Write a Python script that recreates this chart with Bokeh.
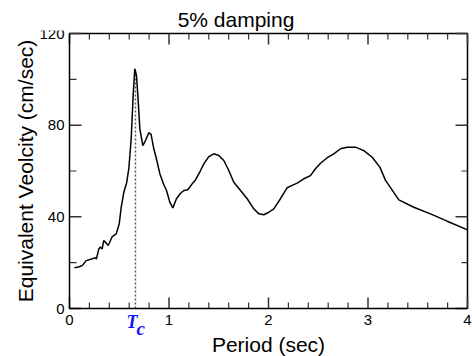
from bokeh.plotting import figure
from bokeh.models import LinearAxis, Range1d, FixedTicker
from bokeh.core.properties import value
from bokeh.embed import file_html
from bokeh.resources import INLINE

period = [0.05, 0.10, 0.13, 0.167, 0.23, 0.26, 0.27, 0.295, 0.31, 0.328, 0.345, 0.362, 0.389,
          0.43, 0.47, 0.50, 0.52, 0.546, 0.575, 0.596, 0.62, 0.64, 0.656, 0.673, 0.687, 0.707,
          0.737, 0.764, 0.797, 0.82, 0.847, 0.87, 0.908, 0.948, 0.975, 1.008, 1.038, 1.075,
          1.116, 1.149, 1.189, 1.233, 1.266, 1.317, 1.35, 1.40, 1.45, 1.50, 1.551, 1.601,
          1.651, 1.719, 1.786, 1.852, 1.903, 1.953, 2.003, 2.053, 2.12, 2.188, 2.238, 2.288,
          2.355, 2.422, 2.472, 2.523, 2.59, 2.656, 2.724, 2.79, 2.874, 2.958, 3.042, 3.119,
          3.176, 3.31, 3.46, 3.628, 3.796, 4.0]
velocity = [17.8, 18.2, 18.8, 20.9, 21.7, 22.2, 21.6, 26.0, 26.8, 26.0, 29.7, 28.9, 27.5,
            31.4, 32.6, 37.0, 44.2, 50.7, 55.0, 61.0, 74.0, 93.0, 104.6, 101.7, 93.0, 78.4,
            71.1, 73.3, 76.7, 76.0, 69.7, 66.0, 58.8, 54.0, 51.5, 46.4, 43.9, 47.9,
            50.3, 51.5, 51.8, 54.4, 56.1, 60.2, 63.1, 66.3, 67.5, 66.8, 64.6, 60.2,
            55.1, 51.5, 47.9, 43.5, 41.3, 40.9, 42.0, 43.5, 47.9, 52.7, 53.7, 54.7,
            56.6, 58.0, 61.0, 63.4, 65.8, 67.5, 69.7, 70.4, 70.4, 68.9, 66.0, 61.7,
            55.9, 47.4, 44.2, 41.3, 38.1, 34.3]
tc_period = 0.663
tc_peak = 104.6
x_lo, x_hi = 0, 4
y_lo, y_hi = 0, 120
x_ticks = [0, 1, 2, 3, 4]
y_ticks = [0, 40, 80, 120]
x_minor = [0.2 * i for i in range(21) if i % 5]
y_minor = [20, 60, 100]
title_text = "5% damping"
x_label = "Period (sec)"
y_label = "Equivalent Veolcity (cm/sec)"

FONT = "Liberation Sans"

# layout in pixels (the frame spans the whole canvas below the title)
BOX_W, BOX_H = 398, 275
LEFT, TOP = 69, 30
PAD_T, PAD_R = 3, 4
BELOW = 48
px_x = BOX_W / (x_hi - x_lo)
px_y = BOX_H / (y_hi - y_lo)

p = figure(frame_width=LEFT + BOX_W + PAD_R, frame_height=BOX_H + PAD_T + BELOW,
           min_border_left=0, min_border_right=1, min_border_top=TOP, min_border_bottom=0,
           x_range=Range1d(x_lo - LEFT / px_x, x_hi + PAD_R / px_x),
           y_range=Range1d(y_lo - BELOW / px_y, y_hi + PAD_T / px_y),
           output_backend="svg", toolbar_location=None,
           x_axis_location=None, y_axis_location=None)
p.grid.visible = False
p.outline_line_color = None
p.background_fill_color = "white"
p.border_fill_color = "white"

p.title.text = title_text
p.title.align = "center"
p.title.offset = LEFT / 2
p.title.text_font = FONT
p.title.text_font_size = "21px"
p.title.text_font_style = "normal"
p.title.text_color = "black"
p.title.standoff = 0


def style(ax):
    ax.axis_line_color = "black"
    ax.axis_line_width = 1.5
    ax.major_tick_in = 0
    ax.major_tick_out = 0
    ax.minor_tick_in = 0
    ax.minor_tick_out = 0
    ax.major_tick_line_color = None
    ax.minor_tick_line_color = None
    ax.major_label_text_font = FONT
    ax.major_label_text_font_size = "15px"
    ax.major_label_text_color = "black"


yl = LinearAxis(ticker=FixedTicker(ticks=y_ticks), fixed_location=x_lo, bounds=(y_lo, y_hi))
style(yl)
yl.major_label_standoff = 5
p.add_layout(yl, "left")

xb = LinearAxis(ticker=FixedTicker(ticks=x_ticks), fixed_location=y_lo, bounds=(x_lo, x_hi))
style(xb)
xb.major_label_standoff = 6
p.add_layout(xb, "below")

# box edges (top and right)
p.segment(x0=[x_lo, x_hi], y0=[y_hi, y_lo], x1=[x_hi, x_hi], y1=[y_hi, y_hi],
          line_color="black", line_width=1.5)

# inward ticks on all four sides
TICK = "#333333"
p.ray(x=x_ticks, y=[y_lo] * len(x_ticks), length=11, length_units="screen", angle=90,
      angle_units="deg", line_color=TICK, line_width=1.5)
p.ray(x=x_minor, y=[y_lo] * len(x_minor), length=6, length_units="screen", angle=90,
      angle_units="deg", line_color=TICK, line_width=1.2)
p.ray(x=x_ticks, y=[y_hi] * len(x_ticks), length=11, length_units="screen", angle=-90,
      angle_units="deg", line_color=TICK, line_width=1.5)
p.ray(x=x_minor, y=[y_hi] * len(x_minor), length=6, length_units="screen", angle=-90,
      angle_units="deg", line_color=TICK, line_width=1.2)
p.ray(x=[x_lo] * len(y_ticks), y=y_ticks, length=12, length_units="screen", angle=0,
      angle_units="deg", line_color=TICK, line_width=1.5)
p.ray(x=[x_lo] * len(y_minor), y=y_minor, length=7, length_units="screen", angle=0,
      angle_units="deg", line_color=TICK, line_width=1.2)
p.ray(x=[x_hi] * len(y_ticks), y=y_ticks, length=12, length_units="screen", angle=180,
      angle_units="deg", line_color=TICK, line_width=1.5)
p.ray(x=[x_hi] * len(y_minor), y=y_minor, length=6, length_units="screen", angle=180,
      angle_units="deg", line_color=TICK, line_width=1.2)

p.segment(x0=[tc_period], y0=[0], x1=[tc_period], y1=[tc_peak],
          line_color="#555555", line_width=1.5, line_dash="2 2")
p.line(period, velocity, line_color="black", line_width=1.5)

# axis titles and the Tc marker
p.text(x=[(x_lo + x_hi) / 2], y=[y_lo - 36 / px_y], text=[x_label], text_align="center",
       text_baseline="alphabetic", text_font=value(FONT), text_font_size="21px",
       text_color="black")
p.text(x=[x_lo - 44 / px_x], y=[(y_lo + y_hi) / 2], text=[y_label], text_align="center",
       text_baseline="alphabetic", angle=90, angle_units="deg", text_font=value(FONT),
       text_font_size="21px", text_color="black")
p.text(x=[tc_period - 9 / px_x], y=[y_lo - 13 / px_y], text=["T"], text_align="left",
       text_baseline="alphabetic", text_font=value("Liberation Serif"),
       text_font_style="bold italic", text_font_size="18px", text_color="#1010ff")
p.text(x=[tc_period + 1 / px_x], y=[y_lo - 19.5 / px_y], text=["c"], text_align="left",
       text_baseline="alphabetic", text_font=value("Liberation Serif"),
       text_font_style="bold italic", text_font_size="19px", text_color="#1010ff")

open("out.html", "w").write(file_html(p, INLINE))
